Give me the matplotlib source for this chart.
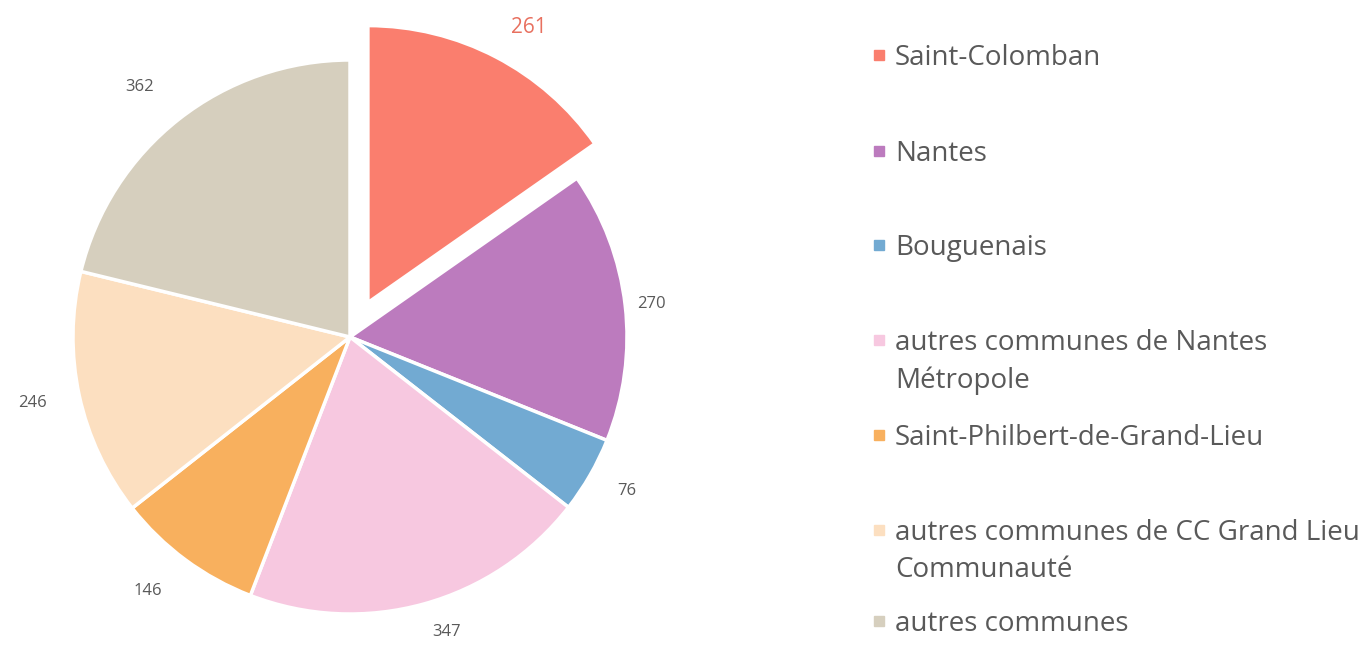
import numpy as np
import matplotlib.pyplot as plt
from matplotlib.patches import Rectangle

plt.rcParams['font.family'] = ['Open Sans', 'DejaVu Sans']

# data
communes = ["Saint-Colomban", "Nantes", "Bouguenais",
            "autres communes de Nantes\nMétropole",
            "Saint-Philbert-de-Grand-Lieu",
            "autres communes de CC Grand Lieu\nCommunauté",
            "autres communes"]
effectifs = [261, 270, 76, 347, 146, 246, 362]
couleurs = ["#FA7E6E", "#BC7BBE", "#72AAD2", "#F7C8E0", "#F8B05E", "#FCDFC0", "#D6CFBE"]
eclate = [0.14, 0, 0, 0, 0, 0, 0]
# distance of each value label from its wedge (in radii)
dist_etiq = [1.12, 1.045, 1.115, 1.105, 1.14, 1.12, 1.147]

W, H = 1367, 647
fig = plt.figure(figsize=(W / 100, H / 100), dpi=100)

# pie axes: centre at (350, 337) px from top, radius 277 px
cx, cy, r = 350, H - 337, 277
ax = fig.add_axes([0, 0, 700 / W, 1])

wedges, texts = ax.pie(effectifs, colors=couleurs, explode=eclate,
                       startangle=90, counterclock=False,
                       labels=[str(v) for v in effectifs], labeldistance=1.12,
                       wedgeprops=dict(edgecolor='white', linewidth=2.5),
                       textprops=dict(fontsize=12, color='#595959'))
texts[0].set_color('#E8705F')
texts[0].set_fontsize(15)

# move the labels a bit, one distance per wedge
for w, t, d in zip(wedges, texts, dist_etiq):
    ang = np.deg2rad((w.theta1 + w.theta2) / 2)
    x0, y0 = w.center
    t.set_position((x0 + d * w.r * np.cos(ang), y0 + d * w.r * np.sin(ang)))

ax.set_aspect('auto')
ax.set_xlim(-cx / r, (700 - cx) / r)
ax.set_ylim(-cy / r, (H - cy) / r)
ax.axis('off')

# legend, drawn by hand to keep the uneven spacing
y_mid = [55, 151, 245, 340, 435, 530, 621]
for nom, coul, y in zip(communes, couleurs, y_mid):
    fig.patches.append(Rectangle((874 / W, 1 - (y + 5) / H), 10 / W, 10 / H,
                                 transform=fig.transFigure, color=coul))
    fig.text(895 / W, 1 - (y - 11) / H, nom, fontsize=20, color='#595959',
             va='top', ha='left', linespacing=1.45)

fig.savefig("out.png", dpi=100)
